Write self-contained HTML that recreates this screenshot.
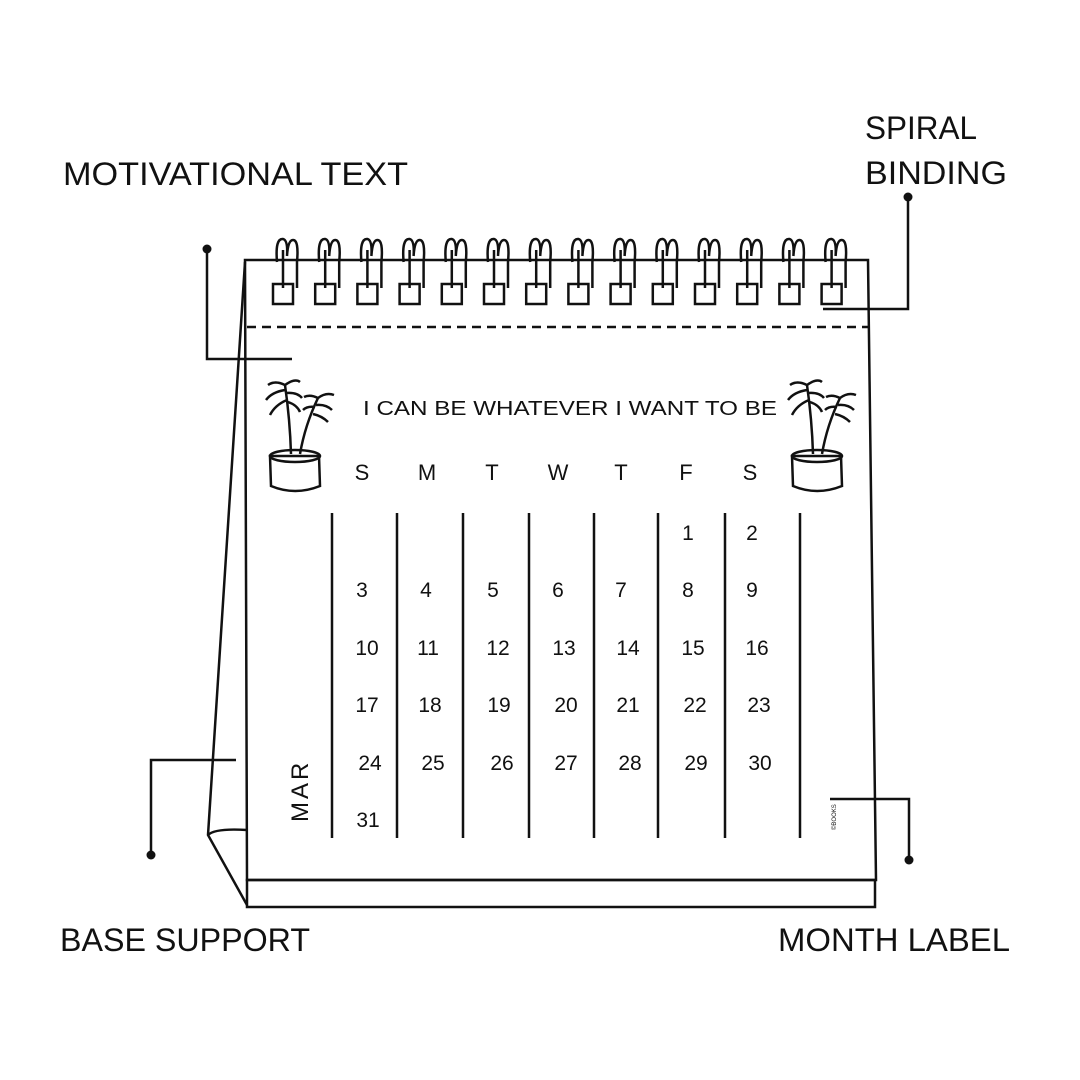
<!DOCTYPE html>
<html><head><meta charset="utf-8"><style>
html,body{margin:0;padding:0;background:#fff;}
svg{display:block}
.l{font-family:"Liberation Sans",sans-serif;font-size:32px;fill:#111;}
.d{font-family:"Liberation Sans",sans-serif;font-size:21px;fill:#111;text-anchor:middle;}
</style></head><body>
<svg width="1080" height="1080" viewBox="0 0 1080 1080" xmlns="http://www.w3.org/2000/svg">
<rect width="1080" height="1080" fill="#fff"/>
<g fill="none" stroke="#111" stroke-width="2.5">
<path d="M245 260 L868 260 L876 880 L247 880 Z" fill="#fff"/>
<rect x="247" y="880" width="628" height="27"/>
<path d="M245 262 L208 835 L247 905"/>
<path d="M208 835 Q215 828 247 830"/>
<path d="M247 327 L868 327" stroke-dasharray="9 6"/>
<g stroke-width="2.5">
<line x1="332" y1="513" x2="332" y2="838"/><line x1="397" y1="513" x2="397" y2="838"/>
<line x1="463" y1="513" x2="463" y2="838"/><line x1="529" y1="513" x2="529" y2="838"/>
<line x1="594" y1="513" x2="594" y2="838"/><line x1="658" y1="513" x2="658" y2="838"/>
<line x1="725" y1="513" x2="725" y2="838"/><line x1="800" y1="513" x2="800" y2="838"/>
</g>
<path d="M207 249 V359 H292"/>
<path d="M908 197 V309 H823"/>
<path d="M151 855 V760 H236"/>
<path d="M909 860 V799 H830"/>
<g id="plant">
<path d="M270 456 L271 486 Q295 496 320 486 L319 456 Z" fill="#fff"/>
<ellipse cx="295" cy="456" rx="25" ry="6"/>
<path d="M291 454 Q290 420 285 385 M300 454 Q305 425 318 398"/>
<path d="M285 385 Q275 380 268 385 M285 390 Q272 392 266 400 M287 400 Q275 405 270 415 M285 385 Q295 378 300 382 M286 393 Q297 392 302 398 M288 402 Q297 405 300 412 M318 398 Q326 392 334 395 M316 405 Q326 404 332 410 M313 414 Q322 416 328 422 M318 398 Q310 394 304 397 M315 407 Q307 406 303 410"/>
</g>
<use href="#plant" transform="translate(522 0)"/>
</g>
<g fill="none" stroke="#111" stroke-width="2.5">
<g id="ring">
<rect x="273" y="284" width="20" height="20" fill="#fff"/>
<path d="M277 262 Q275 238 283 239 Q288 240 287 256 Q288 240 293 240 Q299 240 297 262 L297 288 M283 250 L283 288"/>
</g>
<use href="#ring" x="42.2"/><use href="#ring" x="84.4"/><use href="#ring" x="126.6"/><use href="#ring" x="168.8"/><use href="#ring" x="211"/><use href="#ring" x="253.2"/><use href="#ring" x="295.4"/><use href="#ring" x="337.6"/><use href="#ring" x="379.8"/><use href="#ring" x="422"/><use href="#ring" x="464.2"/><use href="#ring" x="506.4"/><use href="#ring" x="548.6"/>
</g>
<g fill="#111">
<circle cx="207" cy="249" r="4.5"/><circle cx="908" cy="197" r="4.5"/><circle cx="151" cy="855" r="4.5"/><circle cx="909" cy="860" r="4.5"/>
</g>
<text class="l" x="63" y="185" textLength="345" lengthAdjust="spacingAndGlyphs">MOTIVATIONAL TEXT</text>
<text class="l" x="865" y="139" textLength="112" lengthAdjust="spacingAndGlyphs">SPIRAL</text>
<text class="l" x="865" y="184" textLength="142" lengthAdjust="spacingAndGlyphs">BINDING</text>
<text class="l" x="60" y="951" textLength="250" lengthAdjust="spacingAndGlyphs">BASE SUPPORT</text>
<text class="l" x="778" y="951" textLength="232" lengthAdjust="spacingAndGlyphs">MONTH LABEL</text>
<text x="363" y="415" textLength="414" lengthAdjust="spacingAndGlyphs" style="font-family:'Liberation Sans',sans-serif;font-size:20px;fill:#111">I CAN BE WHATEVER I WANT TO BE</text>
<g class="d">
<g style="font-size:22px">
<text x="362" y="480">S</text><text x="427" y="480">M</text><text x="492" y="480">T</text><text x="558" y="480">W</text><text x="621" y="480">T</text><text x="686" y="480">F</text><text x="750" y="480">S</text>
</g>
<text x="688" y="540">1</text><text x="752" y="540">2</text>
<text x="362" y="597">3</text><text x="426" y="597">4</text><text x="493" y="597">5</text><text x="558" y="597">6</text><text x="621" y="597">7</text><text x="688" y="597">8</text><text x="752" y="597">9</text>
<text x="367" y="655">10</text><text x="428" y="655">11</text><text x="498" y="655">12</text><text x="564" y="655">13</text><text x="628" y="655">14</text><text x="693" y="655">15</text><text x="757" y="655">16</text>
<text x="367" y="712">17</text><text x="430" y="712">18</text><text x="499" y="712">19</text><text x="566" y="712">20</text><text x="628" y="712">21</text><text x="695" y="712">22</text><text x="759" y="712">23</text>
<text x="370" y="770">24</text><text x="433" y="770">25</text><text x="502" y="770">26</text><text x="566" y="770">27</text><text x="630" y="770">28</text><text x="696" y="770">29</text><text x="760" y="770">30</text>
<text x="368" y="827">31</text>
</g>
<text transform="translate(308 822) rotate(-90)" style="font-family:'Liberation Sans',sans-serif;font-size:24px;letter-spacing:3px;fill:#111">MAR</text>
<text transform="translate(836 830) rotate(-90)" style="font-family:'Liberation Sans',sans-serif;font-size:6px;fill:#111">©BOOKS</text>
</svg>
</body></html>
